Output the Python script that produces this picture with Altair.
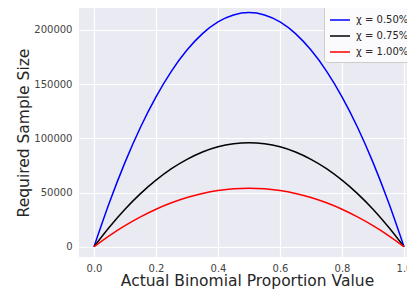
import altair as alt
import pandas as pd

p_vals = [0.0, 0.05, 0.10, 0.15, 0.20, 0.25, 0.30, 0.35, 0.40, 0.45, 0.50,
          0.55, 0.60, 0.65, 0.70, 0.75, 0.80, 0.85, 0.90, 0.95, 1.0]
blue_vals = [0, 41000, 77800, 110200, 138200, 162000, 181400, 196600, 207400, 213800, 216000,
             213800, 207400, 196600, 181400, 162000, 138200, 110200, 77800, 41000, 0]
black_vals = [0, 18200, 34600, 49000, 61400, 72000, 80600, 87400, 92200, 95000, 96000,
              95000, 92200, 87400, 80600, 72000, 61400, 49000, 34600, 18200, 0]
red_vals = [0, 10300, 19400, 27500, 34600, 40500, 45400, 49100, 51800, 53500, 54000,
            53500, 51800, 49100, 45400, 40500, 34600, 27500, 19400, 10300, 0]
series_names = ["χ =  0.50%", "χ =  0.75%", "χ =  1.00%"]
series_colors = ["#0000ff", "#000000", "#ff0000"]
x_ticks = [0.0, 0.2, 0.4, 0.6, 0.8, 1.0]
y_ticks = [0, 50000, 100000, 150000, 200000]

rows = []
for name, vals in zip(series_names, [blue_vals, black_vals, red_vals]):
    for p, v in zip(p_vals, vals):
        rows.append({"p": p, "n": v, "series": name})
df = pd.DataFrame(rows)

font = "DejaVu Sans"
chart = alt.Chart(df).mark_line(strokeWidth=1.5, interpolate="monotone", clip=True).encode(
    x=alt.X("p:Q", scale=alt.Scale(domain=[-0.0484, 1.0097], nice=False, zero=False),
            axis=alt.Axis(title="Actual Binomial Proportion Value", values=x_ticks, format=".1f",
                          titleX=168, titleY=23, titleBaseline="middle",
                          titleFontSize=15.5, titleFontWeight="normal", titleColor="#262626",
                          labelFontSize=10, labelColor="#444444", labelPadding=6,
                          domain=False, ticks=False, grid=True, gridColor="white", gridWidth=1.2,
                          labelFlush=False)),
    y=alt.Y("n:Q", scale=alt.Scale(domain=[-9500, 220200], nice=False, zero=False),
            axis=alt.Axis(title="Required Sample Size", values=y_ticks, format="d",
                          titleX=-56, titleBaseline="middle",
                          titleFontSize=15.5, titleFontWeight="normal", titleColor="#262626",
                          labelFontSize=10, labelColor="#444444", labelPadding=7,
                          domain=False, ticks=False, grid=True, gridColor="white", gridWidth=1.2)),
    color=alt.Color("series:N", scale=alt.Scale(domain=series_names, range=series_colors),
                    legend=alt.Legend(title=None, orient="none", legendX=245, legendY=-4,
                                      symbolType="stroke", symbolSize=400, symbolStrokeWidth=1.5,
                                      labelFontSize=10, labelColor="#262626", labelFont=font,
                                      labelOffset=5,
                                      rowPadding=-5, padding=5,
                                      fillColor="#fbfbfd", strokeColor="#cccccc", cornerRadius=3)),
).properties(
    width=328, height=249,
    autosize=alt.AutoSizeParams(type="none"),
    padding={"left": 71, "top": 0, "right": 0, "bottom": 34},
).configure(font=font).configure_view(
    fill="#eaeaf2", strokeWidth=0
)

chart.save("out.html", embed_options={"renderer": "svg", "actions": False})
